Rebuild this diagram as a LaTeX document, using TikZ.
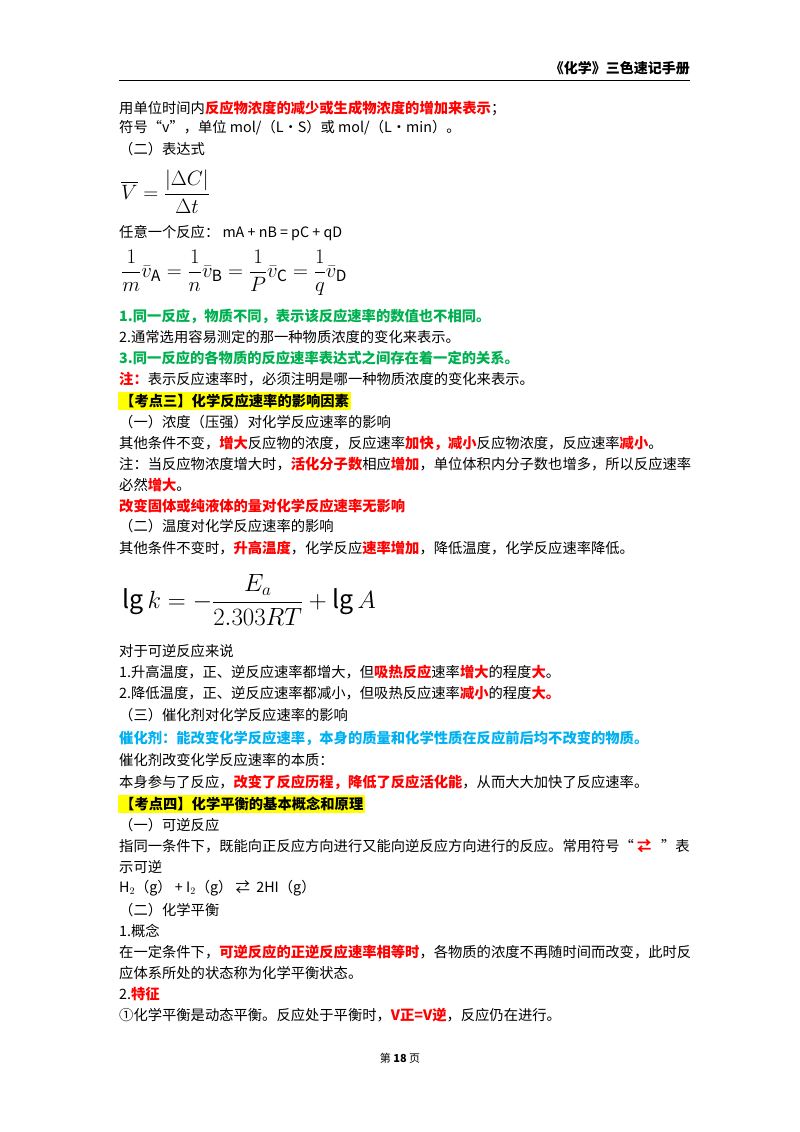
\documentclass[tikz,border=0pt]{standalone}
\usepackage{fontspec}
\usepackage{amsmath}
\setmainfont{Noto Sans CJK SC}
\definecolor{rd}{HTML}{FF0000}
\definecolor{gn}{HTML}{00B050}
\definecolor{bl}{HTML}{00B0F0}
\definecolor{hl}{HTML}{FFFF00}
\newcommand{\R}[1]{\textcolor{rd}{\bfseries #1}}
\tikzset{ln/.style={anchor=west,inner sep=0pt,font=\fontsize{14.3}{16}\selectfont}}
\begin{document}
\begin{tikzpicture}[x=1pt,y=-1pt]
\useasboundingbox (0,0) rectangle (800,1132);
\node[anchor=east,inner sep=0pt,font=\fontsize{14}{16}\selectfont\bfseries] (hd) at (690,68) {《化学》三色速记手册};
\draw[line width=0.8pt] (119,80) -- (690,80);
\node[ln] (l1) at (119,108) {用单位时间内\R{反应物浓度的减少或生成物浓度的增加来表示}；};
\node[ln] (l2) at (119,128) {符号“v”，单位 mol/（L·S）或 mol/（L·min）。};
\node[ln] (l3) at (119,149) {（二）表达式};
\node[ln,font=\fontsize{20}{24}\selectfont] (f1) at (121,192) {$\overline{V}=\dfrac{\left|\Delta C\right|}{\Delta t}$};
\node[ln] (l4) at (119,233) {任意一个反应： mA + nB = pC + qD};
\node[ln,font=\fontsize{22}{26}\selectfont] (f2) at (121,273) {$\dfrac{1}{m}\bar{v}_{\mathrm{A}}=\dfrac{1}{n}\bar{v}_{\mathrm{B}}=\dfrac{1}{P}\bar{v}_{\mathrm{C}}=\dfrac{1}{q}\bar{v}_{\mathrm{D}}$};
\node[ln,text=gn,font=\fontsize{14.3}{16}\selectfont\bfseries] (l5) at (119,316) {1.同一反应，物质不同，表示该反应速率的数值也不相同。};
\node[ln] (l6) at (119,337) {2.通常选用容易测定的那一种物质浓度的变化来表示。};
\node[ln,text=gn,font=\fontsize{14.3}{16}\selectfont\bfseries] (l7) at (119,358) {3.同一反应的各物质的反应速率表达式之间存在着一定的关系。};
\node[ln] (l8) at (119,379) {\R{注：}表示反应速率时，必须注明是哪一种物质浓度的变化来表示。};
\node[ln,fill=hl,inner sep=2pt,font=\fontsize{14.3}{16}\selectfont\bfseries] (k3) at (118,401) {【考点三】化学反应速率的影响因素};
\node[ln] (l9) at (119,422) {（一）浓度（压强）对化学反应速率的影响};
\node[ln] (l10) at (119,443) {其他条件不变，\R{增大}反应物的浓度，反应速率\R{加快，减小}反应物浓度，反应速率\R{减小}。};
\node[ln] (l11) at (119,464) {注：当反应物浓度增大时，\R{活化分子数}相应\R{增加}，单位体积内分子数也增多，所以反应速率};
\node[ln] (l12) at (119,485) {必然\R{增大}。};
\node[ln,text=rd,font=\fontsize{14.3}{16}\selectfont\bfseries] (l13) at (119,506) {改变固体或纯液体的量对化学反应速率无影响};
\node[ln] (l14) at (119,526) {（二）温度对化学反应速率的影响};
\node[ln] (l15) at (119,548) {其他条件不变时，\R{升高温度}，化学反应\R{速率增加}，降低温度，化学反应速率降低。};
\node[ln,font=\fontsize{25}{30}\selectfont] (f3) at (122,600) {$\lg k=-\dfrac{E_a}{2.303RT}+\lg A$};
\node[ln] (l16) at (119,651) {对于可逆反应来说};
\node[ln] (l17) at (119,672) {1.升高温度，正、逆反应速率都增大，但\R{吸热反应}速率\R{增大}的程度\R{大}。};
\node[ln] (l18) at (119,693) {2.降低温度，正、逆反应速率都减小，但吸热反应速率\R{减小}的程度\R{大。}};
\node[ln] (l19) at (119,715) {（三）催化剂对化学反应速率的影响};
\node[ln,text=bl,font=\fontsize{14.3}{16}\selectfont\bfseries] (l20) at (119,738) {催化剂：能改变化学反应速率，本身的质量和化学性质在反应前后均不改变的物质。};
\node[ln] (l21) at (119,760) {催化剂改变化学反应速率的本质：};
\node[ln] (l22) at (119,782) {本身参与了反应，\R{改变了反应历程，降低了反应活化能}，从而大大加快了反应速率。};
\node[ln,fill=hl,inner sep=2pt,font=\fontsize{14.3}{16}\selectfont\bfseries] (k4) at (118,804) {【考点四】化学平衡的基本概念和原理};
\node[ln] (l23) at (119,825) {（一）可逆反应};
\node[ln] (l24) at (119,846) {指同一条件下，既能向正反应方向进行又能向逆反应方向进行的反应。常用符号“ \R{⇄} \ \ ”表};
\node[ln] (l25) at (119,867) {示可逆};
\node[ln] (l26) at (119,888) {H$_2$（g） + I$_2$（g） ⇄ \ 2HI（g）};
\node[ln] (l27) at (119,910) {（二）化学平衡};
\node[ln] (l28) at (119,931) {1.概念};
\node[ln] (l29) at (119,952) {在一定条件下，\R{可逆反应的正逆反应速率相等时}，各物质的浓度不再随时间而改变，此时反};
\node[ln] (l30) at (119,973) {应体系所处的状态称为化学平衡状态。};
\node[ln] (l31) at (119,994) {2.\R{特征}};
\node[ln] (l32) at (119,1015) {①化学平衡是动态平衡。反应处于平衡时，\R{V正=V逆}，反应仍在进行。};
\node[inner sep=0pt,font=\fontsize{11}{13}\selectfont] (ft) at (400,1058) {第 \textbf{18} 页};
\end{tikzpicture}
\end{document}
